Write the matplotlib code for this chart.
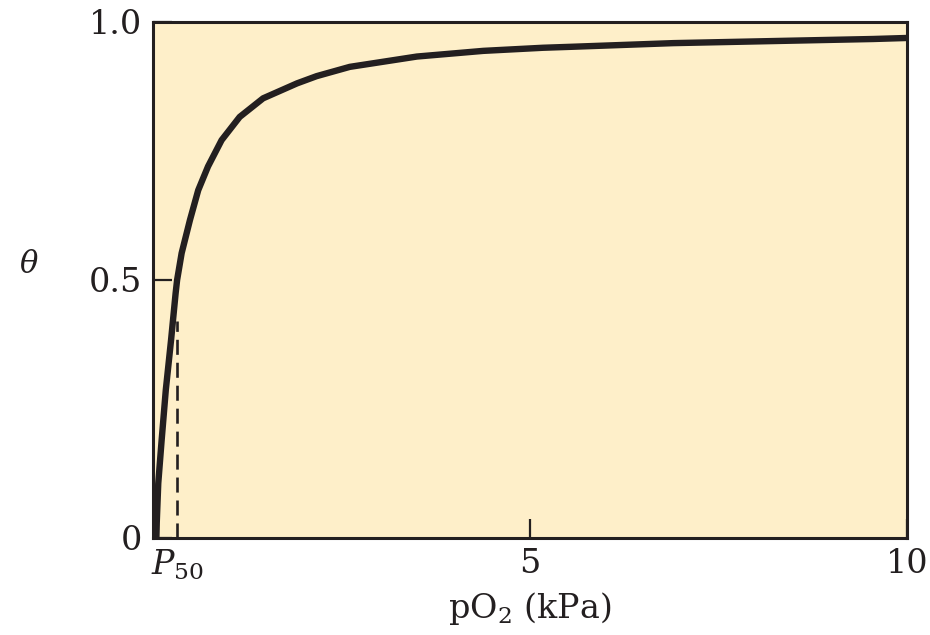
import matplotlib
matplotlib.use('Agg')
import matplotlib.pyplot as plt

# oxygen binding curve
po2 = [0.045, 0.05, 0.07, 0.115, 0.17, 0.24, 0.30, 0.32, 0.38, 0.49, 0.60,
       0.73, 0.91, 1.15, 1.46, 1.91, 2.17, 2.61, 3.5, 4.38, 5.17, 5.57,
       6.9, 8.22, 9.55, 10.0]
theta = [0.0, 0.03, 0.106, 0.19, 0.287, 0.384, 0.474, 0.50, 0.552, 0.616, 0.674,
         0.72, 0.771, 0.816, 0.852, 0.881, 0.895, 0.913, 0.933, 0.944, 0.950, 0.952,
         0.959, 0.963, 0.967, 0.969]

p50 = 0.32
p50_top = 0.42

x_ticks = [p50, 5, 10]
x_labels = [r'$P_{50}$', '5', '10']
y_ticks = [0, 0.5, 1.0]
y_labels = ['0', '0.5', '1.0']

ink = '#231F20'
plt.rcParams['font.family'] = 'DejaVu Serif'
plt.rcParams['mathtext.fontset'] = 'dejavuserif'

fig = plt.figure(figsize=(9.3, 6.35), dpi=100)
ax = fig.add_axes([0.1645, 0.1528, 0.8108, 0.8126])
ax.set_facecolor('#FEEFC9')

ax.plot(po2, theta, color=ink, lw=4.6, solid_capstyle='butt',
        solid_joinstyle='round', zorder=3)
ax.plot([p50, p50], [0, p50_top], color=ink, lw=1.9, dashes=(5.7, 3.0), zorder=2)

ax.set_xlim(0, 10)
ax.set_ylim(0, 1)

ax.set_xticks(x_ticks)
ax.set_xticklabels(x_labels)
ax.set_yticks(y_ticks)
ax.set_yticklabels(y_labels)
ax.tick_params(direction='in', length=14, width=1.6, colors=ink,
               labelsize=24, pad=8)
ax.tick_params(axis='x', pad=7)
ax.xaxis.get_major_ticks()[0].tick1line.set_visible(False)

for s in ax.spines.values():
    s.set_linewidth(2.2)
    s.set_color(ink)

ax.set_xlabel(r'pO$_2$ (kPa)', fontsize=24, color=ink, labelpad=6)
ax.set_ylabel(r'$\theta$', fontsize=22, color=ink, rotation=0, labelpad=0)
ax.yaxis.set_label_coords(-0.165, 0.5)

fig.savefig('out.png', dpi=100)
